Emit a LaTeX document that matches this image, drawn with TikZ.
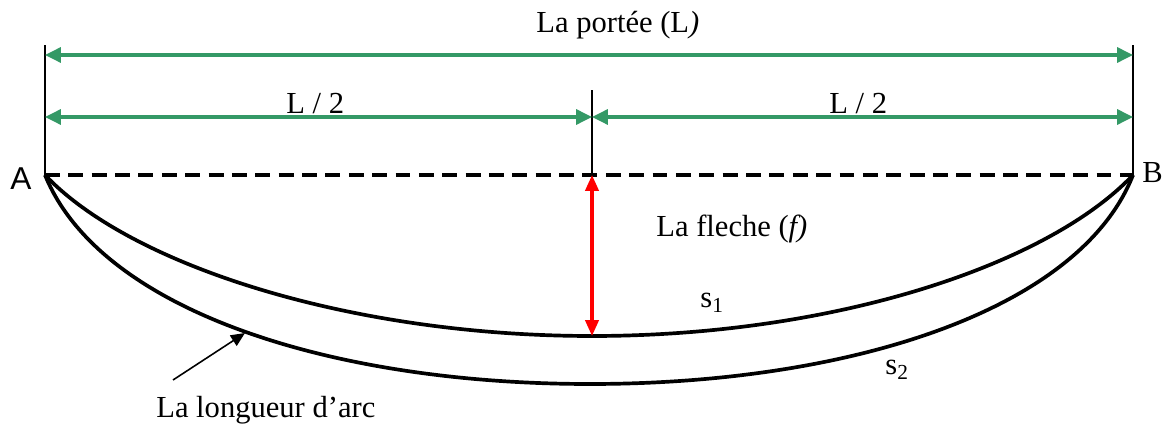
\documentclass[tikz,border=0pt]{standalone}
\usepackage{fontspec}
\setmainfont{Liberation Serif}
\newfontfamily\sansA{Liberation Sans}
\usetikzlibrary{calc,arrows.meta}
\definecolor{cote}{RGB}{52,153,102}
\tikzset{
  cotearrow/.style={draw=cote, line width=1.8pt, {Triangle[length=9pt,width=8.5pt]}-{Triangle[length=9pt,width=8.5pt]}},
  fleche/.style={draw=red, line width=1.8pt, {Triangle[length=9pt,width=7.5pt]}-{Triangle[length=9pt,width=7.5pt]}},
  cable/.style={draw, line width=2.1pt},
  label/.style={inner sep=0pt, anchor=base west, font=\fontsize{17.4}{20}\selectfont}
}

\begin{document}
\begin{tikzpicture}[x=0.02cm, y=-0.02cm]
    \useasboundingbox (0,0) rectangle (1162,428);
    \coordinate(A)at(45,175);
    \coordinate(B)at(1133,175);
    \coordinate(M)at(592,175);
    \coordinate(F)at(592,336); % bas de s1
    \coordinate(G)at(590,384); % bas de s2
    \coordinate(At)at($(A)+(0,-130)$);
    \coordinate(Bt)at($(B)+(0,-130)$);
    \coordinate(Mt)at($(M)+(0,-85)$);
    \coordinate(Lg)at($(A)+(0,-120)$);
    \coordinate(Ld)at($(B)+(0,-120)$);
    \coordinate(Hg)at($(A)+(0,-58)$);
    \coordinate(Hm)at($(M)+(0,-58)$);
    \coordinate(Hd)at($(B)+(0,-58)$);
    \coordinate(P)at(173,380);
    \coordinate(Q)at(245,333);

    % lignes de rappel
    \path[draw, line width=0.9pt](A)to(At);
    \path[draw, line width=0.9pt](B)to(Bt);
    \path[draw, line width=1.2pt](M)to(Mt);
    \path[draw, line width=2.1pt, dash pattern=on 8.5pt off 4.8pt](A)to(B);
    % cotes
    \path[cotearrow](Lg)to(Ld);
    \path[cotearrow](Hg)to(Hm);
    \path[cotearrow](Hm)to(Hd);
    % arcs s1 et s2
    \path[cable](A) .. controls (130,265) and (350,336) .. (F) .. controls (834,336) and (1048,265) .. (B);
    \path[cable](A) .. controls (100,310) and (330,384) .. (G) .. controls (850,384) and (1080,310) .. (B);
    % fleche
    \path[fleche](M)to(F);
    \path[draw, line width=0.9pt, -{Triangle[length=8pt,width=7pt]}](P)to(Q);

    \node[label](portee)at(536,33){La portée (L\textit{)}};
    \node[label](demig)at(286,114){L / 2};
    \node[label](demid)at(829,114){L / 2};
    \node[label](fl)at(656,237){La fleche (\textit{f)}};
    \node[label](s1)at(700,308){s\textsubscript{1}};
    \node[label](s2)at(885,375){s\textsubscript{2}};
    \node[label](arc)at(156,418){La longueur d’arc};
    \node[label, font=\sansA\fontsize{18}{20}\selectfont](a)at(10,190){A};
    \node[label](b)at(1142,183){B};
\end{tikzpicture}
\end{document}
